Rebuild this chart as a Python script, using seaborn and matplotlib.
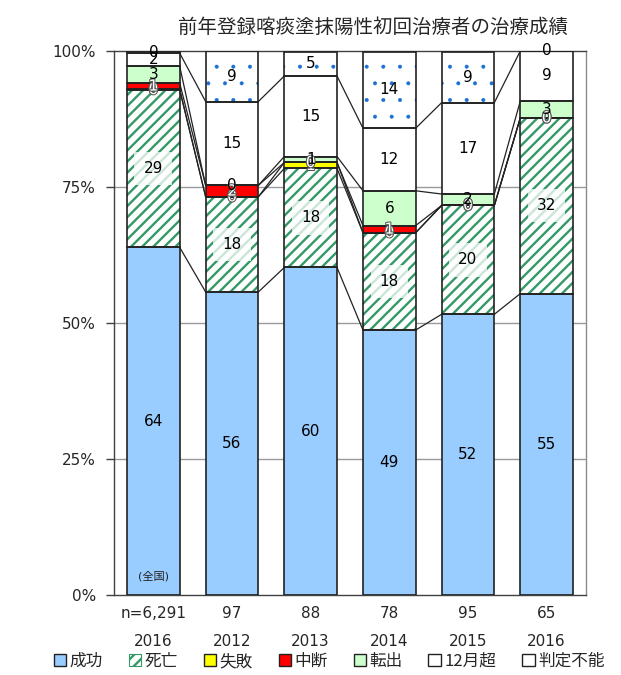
import numpy as np
import pandas as pd
import matplotlib
matplotlib.use("Agg")
import matplotlib.pyplot as plt
import matplotlib.patheffects as pe
from matplotlib.patches import Patch
import seaborn as sns

# categories / tick labels
categories = ["全国2016", "2012", "2013", "2014", "2015", "2016"]
n_labels = ["n=6,291", "97", "88", "78", "95", "65"]
years = ["2016", "2012", "2013", "2014", "2015", "2016"]

# percentages per outcome (bottom -> top)
success = [63.9, 55.7, 60.2, 48.7, 51.6, 55.4]
death = [28.9, 17.5, 18.2, 17.9, 20.0, 32.3]
failure = [0.2, 0.0, 1.1, 0.0, 0.0, 0.0]
interrupted = [1.1, 2.1, 0.0, 1.3, 0.0, 0.0]
transfer = [3.1, 0.0, 1.1, 6.4, 2.1, 3.1]
over12 = [2.4, 15.4, 14.8, 11.5, 16.8, 9.2]
undetermined = [0.4, 9.3, 4.5, 14.1, 9.4, 0.0]

series_names = ["成功", "死亡", "失敗", "中断", "転出", "12月超", "判定不能"]
series_vals = [success, death, failure, interrupted, transfer, over12, undetermined]
colors = ["#99ccff", "white", "#ffff00", "#ff0000", "#ccffcc", "white", "white"]
hatches = [None, "///", None, None, None, None, "."]
hatch_colors = [None, "#339966", None, None, None, None, "#1a6fd6"]
hatch_widths = [None, 1.7, None, None, None, None, 0.4]

sns.set_theme(style="white")
plt.rcParams["font.family"] = ["DejaVu Sans", "Noto Sans CJK JP"]
plt.rcParams["hatch.linewidth"] = 1.7

fig = plt.figure(figsize=(6.21, 6.75), dpi=100)
ax = fig.add_axes([0.1836, 0.1185, 0.76, 0.806])

vals = np.array(series_vals)
tops = np.cumsum(vals, axis=0)
bottoms = tops - vals
bw = 0.67
x = np.arange(len(categories))

# grid
for g in [25, 50, 75]:
    ax.axhline(g, color="#9a9a9a", lw=1.0, zorder=0)

# cumulative layers, from top series down
for k in range(len(series_names) - 1, -1, -1):
    df = pd.DataFrame({"cat": categories, "val": tops[k]})
    kw = dict(linewidth=0)
    if hatches[k]:
        kw.update(hatch=hatches[k], edgecolor=hatch_colors[k])
    else:
        kw.update(edgecolor=colors[k])
    before = len(ax.patches)
    sns.barplot(data=df, x="cat", y="val", order=categories, color=colors[k],
                saturation=1, width=bw, ax=ax, zorder=1, **kw)
    if hatches[k]:
        for p in ax.patches[before:]:
            if hasattr(p, "set_hatch_linewidth"):
                p.set_hatch_linewidth(hatch_widths[k])

# segment outlines
for k in range(len(series_names)):
    ax.bar(x, vals[k], bottom=bottoms[k], width=bw, fill=False,
           edgecolor="#222222", linewidth=1.2, zorder=3)

# connector lines between bars
for k in range(len(series_names) - 1):
    for i in range(len(categories) - 1):
        ax.plot([i + bw / 2, i + 1 - bw / 2], [tops[k][i], tops[k][i + 1]],
                color="#222222", lw=0.9, zorder=2)

# data labels
for k in range(len(series_names)):
    for i in range(len(categories)):
        v = vals[k][i]
        y = bottoms[k][i] + v / 2
        txt = str(int(v + 0.5))
        if k in (2, 3):
            t = ax.text(i, y, txt, ha="center", va="center", fontsize=11,
                        color="white", zorder=5)
            t.set_path_effects([pe.withStroke(linewidth=1.5, foreground="#555555")])
        elif k == 1:
            ax.text(i, y, txt, ha="center", va="center", fontsize=11, color="black",
                    zorder=5, bbox=dict(boxstyle="square,pad=0.6", fc="white",
                                        ec="none", alpha=0.75))
        else:
            ax.text(i, y, txt, ha="center", va="center", fontsize=11,
                    color="black", zorder=5)

ax.text(0, 2.5, "(全国)", ha="center", va="bottom", fontsize=8, color="#222222", zorder=5)

ax.set_xlim(-0.5, len(categories) - 0.5)
ax.set_ylim(0, 100)
ax.set_yticks([0, 25, 50, 75, 100])
ax.set_yticklabels(["0%", "25%", "50%", "75%", "100%"], fontsize=11)
ax.set_xticks(x)
ax.set_xticklabels([f"{n}\n{y}" for n, y in zip(n_labels, years)], fontsize=11,
                   linespacing=2.1)
ax.set_xlabel("")
ax.set_ylabel("")
ax.tick_params(axis="y", left=True, length=6, width=1, color="#404040", pad=7)
ax.tick_params(axis="x", bottom=False, length=0, pad=8)
for s in ax.spines.values():
    s.set_visible(True)
    s.set_color("#404040")
    s.set_linewidth(1.0)
ax.spines["right"].set_color("#8a8a8a")

fig.text(0.6, 0.96, "前年登録喀痰塗抹陽性初回治療者の治療成績", ha="center", va="center",
         fontsize=14, family=["Noto Sans CJK JP", "DejaVu Sans"])

handles = []
for k in range(len(series_names)):
    if k == 1:
        handles.append(Patch(facecolor=colors[k], edgecolor=hatch_colors[k],
                             hatch=hatches[k], linewidth=0.8, label=series_names[k]))
    else:
        handles.append(Patch(facecolor=colors[k], edgecolor="#222222", label=series_names[k]))
leg = fig.legend(handles=handles, loc="center", bbox_to_anchor=(0.53, 0.02), ncol=7,
                 frameon=False, handlelength=0.75, handleheight=0.75,
                 handletextpad=0.2, columnspacing=1.55,
                 prop={"family": ["Noto Sans CJK JP", "DejaVu Sans"], "size": 12})

fig.savefig("out.png", dpi=100)
